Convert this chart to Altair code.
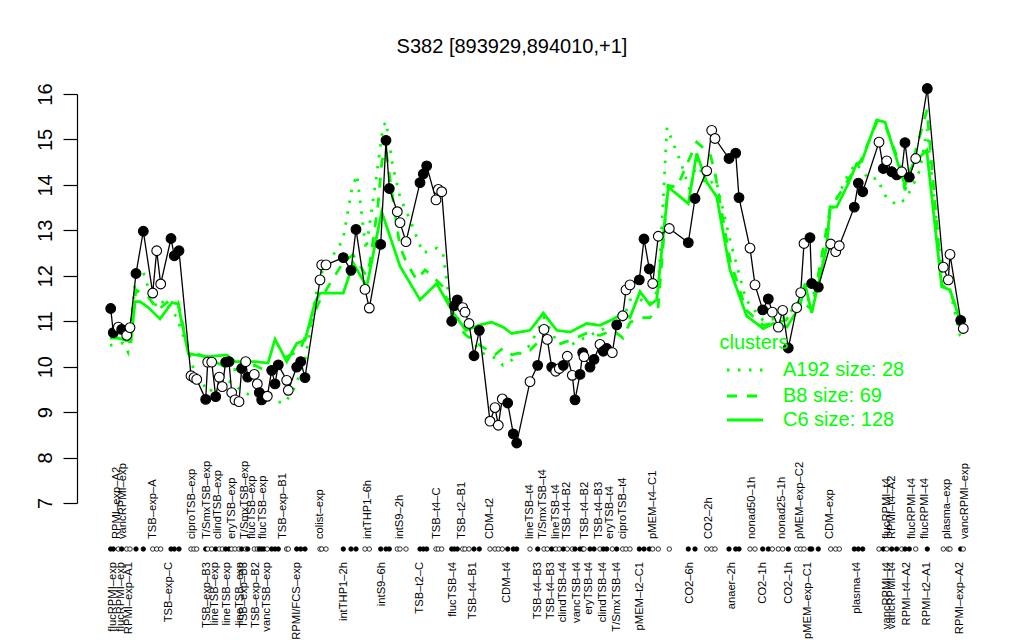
import altair as alt
import pandas as pd

FONT = "Liberation Sans"
GREEN = "#00ff00"

# ---- gene profile (black line) ----
prof_pos = [13.7, 16.3, 21.3, 24.7, 29.7, 33, 39, 46.3, 55.7, 59.7, 63.7, 74, 77.3, 82,
            94, 97, 99.7, 108.7, 110.7, 114.7, 118.7, 122.3, 125.3, 128.7, 132, 134.7, 138, 142,
            144.7, 148.7, 150.7, 157.3, 160.3, 162.3, 164.7, 167, 170.3, 174.7, 178, 181.3, 189.7,
            191.3, 199.7, 203.7, 208, 223, 224.7, 229, 246.3, 254, 259, 268, 272.3, 283.7, 289,
            292.3, 300.3, 303, 309, 323, 326.3, 329.7, 339, 341.3, 344.7, 354.7, 357.3, 360.3,
            365.7, 368, 372, 377, 382.3, 393, 398, 401.3, 405.3, 410.7, 416.3, 419.7, 433, 440.7,
            447, 450.3, 454.7, 458.7, 462.3, 466.3, 470.3, 475.3, 478, 483, 485.7, 487, 493, 497,
            503, 506.3, 509.7, 515.3, 519.7, 525.7, 529, 533, 542.3, 547, 552.3, 555.7, 561.3,
            572.3, 591.3, 598, 609.7, 614.7, 618, 632, 638.7, 642, 653, 658, 665.7, 671.3, 675.3,
            681.3, 685.7, 691.3, 699.7, 703.7, 707, 713, 714.7, 721.3, 733.7, 738.7, 742.3, 757.3,
            761.3, 765.7, 782, 786.3, 789.7, 794.7, 799.7, 804.7, 808, 812.3, 818.7, 830.3, 846.3,
            851.3, 853, 863.7, 866.3]
prof_val = [11.28, 10.75, 10.87, 10.82, 10.69, 10.86, 12.05, 12.98, 11.62, 12.55, 11.82, 12.82,
            12.44, 12.55, 9.80, 9.76, 9.72, 9.28, 10.10, 10.10, 9.34, 9.77, 9.56, 10.10, 10.11,
            9.43, 9.27, 9.23, 9.96, 10.11, 9.77, 9.83, 9.62, 9.43, 9.27, 9.34, 9.35, 9.92, 9.62,
            10.04, 9.70, 9.48, 9.99, 10.11, 9.76, 11.91, 12.24, 12.24, 12.40, 12.12, 13.02, 11.70,
            11.29, 12.69, 14.98, 13.92, 13.41, 13.17, 12.75, 14.05, 14.24, 14.42, 13.67, 13.90,
            13.85, 11.00, 11.34, 11.47, 11.30, 11.20, 10.95, 10.24, 10.80, 8.80, 9.10, 8.71, 9.29,
            9.20, 8.52, 8.32, 9.67, 10.03, 10.82, 10.60, 9.99, 9.90, 9.96, 10.03, 10.23, 9.81, 9.27,
            9.83, 10.31, 10.22, 9.99, 10.16, 10.49, 10.34, 10.40, 10.31, 10.92, 11.12, 11.69,
            11.80, 11.91, 12.81, 12.15, 11.83, 12.87, 13.04, 12.73, 13.70, 14.31, 15.20, 15.02,
            14.58, 14.70, 13.72, 12.61, 11.80, 11.25, 11.49, 11.20, 10.87, 11.24, 10.41, 11.30,
            11.63, 12.71, 12.84, 11.83, 11.75, 12.70, 12.53, 12.66, 13.51, 14.04, 13.85, 14.94,
            14.36, 14.53, 14.29, 14.22, 14.29, 14.93, 14.17, 14.58, 16.12, 12.19, 11.91, 12.47,
            11.02, 10.84]
prof_fill = list("bbwbwwbbww" "wbbbwwwbww" "bwwbbwwwbw" "bwwbbbwbbb" "wwbbbwwwbb"
                 "bwwbbbwwwb" "bbwwwbbbww" "wbbwwwwbbb" "wbwwbwwbww" "bbbwbbwbbw"
                 "bwwwbbbwww" "bbwwwbbbww" "bbwwwbwwwb" "bbwwwbbbwb" "wbbwbbwbww" "wbw")

# ---- cluster means (green lines) ----
c6_pos = [13, 21, 29, 34, 38, 43, 51.3, 63, 71.3, 75, 81, 91.3, 98, 111, 129.7, 138, 158, 171,
          178, 183, 189.7, 199.7, 208, 218, 223, 246.3, 256.3, 269.7, 284.7, 303, 323, 339.7,
          356.3, 369, 383, 394.7, 406.3, 414.7, 433, 446.3, 459.7, 473, 489.7, 503, 516.3, 526.3,
          533, 543, 553, 559.7, 571.3, 583, 591.3, 599.7, 609.7, 619.7, 633, 649.7, 666.3, 676.3,
          689.7, 703, 708, 714.7, 729.7, 733, 739.7, 751.3, 759.7, 764.7, 779.7, 788, 794.7, 803,
          808, 816.3, 829.7, 844.7, 853, 863, 868]
c6_val = [10.69, 10.63, 10.58, 10.55, 11.43, 11.43, 11.30, 11.05, 11.30, 11.41, 11.38, 10.29,
          10.26, 10.22, 10.26, 10.11, 10.11, 10.08, 10.60, 10.40, 10.11, 10.51, 10.58, 11.41,
          11.62, 11.62, 12.28, 11.76, 13.41, 12.21, 11.47, 11.83, 11.18, 10.80, 10.92, 10.98,
          10.87, 10.73, 10.80, 11.18, 10.80, 10.76, 10.95, 10.91, 11.05, 11.18, 11.08, 11.65,
          11.36, 11.47, 13.95, 13.74, 13.59, 14.69, 14.06, 13.74, 12.13, 11.11, 10.84, 10.95,
          10.87, 11.33, 11.83, 11.18, 12.64, 13.52, 13.51, 14.03, 14.47, 14.51, 15.43, 15.38,
          14.91, 14.33, 13.99, 14.47, 14.76, 11.76, 11.69, 11.02, 10.80]

b8_pos = [13, 29, 34, 39, 51, 61, 73, 81, 91, 111, 134.7, 158, 171, 183, 203, 218, 223, 246,
          256, 269, 273, 281, 285, 289, 296, 303, 309.7, 319.7, 328, 336, 346, 356.3, 369, 383,
          398, 406, 415, 433, 448, 459, 473, 489, 503, 516, 526, 533, 543, 553, 561, 571, 580,
          599.7, 613, 618, 633, 649, 666, 689, 703, 715, 733, 751, 764, 780, 788, 803, 808, 816,
          830, 845, 853, 868]
b8_val = [10.63, 10.63, 10.76, 11.69, 11.54, 11.25, 11.47, 11.43, 10.36, 10.19, 9.92, 10.03, 9.88,
          10.15, 10.36, 11.21, 11.47, 12.29, 12.46, 12.01, 12.29, 13.56, 14.54, 14.76, 13.67,
          12.64, 12.28, 11.91, 12.13, 11.98, 11.76, 11.02, 10.69, 10.47, 10.26, 10.41, 10.26,
          10.36, 10.69, 10.47, 10.58, 10.73, 10.69, 10.80, 10.63, 10.97, 11.08, 11.08, 11.28,
          13.99, 13.95, 14.94, 14.69, 14.26, 12.35, 11.25, 10.91, 11.02, 11.47, 11.25, 13.45,
          14.11, 14.54, 15.39, 15.33, 14.44, 13.88, 14.54, 15.65, 11.80, 11.65, 10.80]

a192_pos = [13, 18, 26, 31, 39, 46, 53, 60, 68, 75, 80, 85, 90, 95, 111, 131, 148, 161, 188,
            198, 208, 218, 223, 246, 255, 260, 269, 279, 286, 289, 296, 303, 313, 326, 340, 346,
            353, 369, 383, 398, 406, 415, 433, 447, 459, 473, 489, 503, 516, 526, 533, 543, 553,
            561, 566, 570, 583, 593, 600, 609, 619, 633, 649, 666, 689, 703, 715, 729, 733, 739,
            751, 759, 764, 773, 780, 788, 794, 799, 808, 816, 823, 830, 845, 853, 863, 868]
a192_val = [10.47, 10.49, 10.52, 10.32, 12.01, 12.09, 11.62, 11.30, 11.47, 11.19, 11.10, 10.73,
            10.52, 10.03, 9.44, 9.70, 9.42, 9.31, 9.20, 9.55, 10.15, 11.47, 12.01, 12.79, 13.93,
            14.22, 12.57, 14.11, 15.28, 15.39, 14.39, 13.73, 13.23, 12.50, 12.61, 12.50, 11.32,
            10.80, 10.32, 10.19, 10.03, 10.15, 10.47, 11.08, 10.58, 10.47, 10.65, 10.80, 10.91,
            11.02, 11.47, 11.48, 11.38, 11.69, 13.60, 15.26, 14.54, 13.88, 14.54, 13.99, 14.11,
            12.79, 11.47, 11.02, 11.08, 11.47, 11.47, 12.57, 13.34, 13.67, 14.22, 14.48, 14.33,
            14.11, 14.15, 13.77, 13.67, 13.56, 13.67, 13.99, 14.33, 15.22, 12.01, 11.69, 10.69,
            10.58]

# ---- sample labels ----
top_pos = [19.7, 26.3, 56.3, 94.7, 109.7, 121.3, 134.7, 148, 154.7, 166.3, 186.3, 223, 271.3,
           303, 339.7, 364.7, 393, 433, 446.3, 459, 469.7, 488, 502.3, 513, 525.7, 555.7, 612.3,
           654.7, 684.7, 703, 733, 789.7, 794.7, 814.7, 828, 849.7, 868]
top_lab = ["RPMI\u2013exp\u2013A2", "vancRPMI\u2013exp", "TSB\u2013exp\u2013A", "ciproTSB\u2013exp",
           "T/SmxTSB\u2013exp", "clindTSB\u2013exp", "eryTSB\u2013exp", "T/SmxTSB\u2013exp",
           "flucTSB\u2013exp", "flucTSB\u2013exp", "TSB\u2013exp\u2013B1", "colist\u2013exp",
           "intTHP1\u20136h", "intS9\u20132h", "TSB\u2013t4\u2013C", "TSB\u2013t2\u2013B1", "CDM\u2013t2",
           "lineTSB\u2013t4", "T/SmxTSB\u2013t4", "lineTSB\u2013t4", "TSB\u2013t4\u2013B2",
           "TSB\u2013t4\u2013B2", "TSB\u2013t4\u2013B3", "eryTSB\u2013t4", "ciproTSB\u2013t4",
           "pMEM\u2013t4\u2013C1", "CO2\u20132h", "nonad50\u20131h", "nonad25\u20131h",
           "pMEM\u2013exp\u2013C2", "CDM\u2013exp", "flucRPMI\u2013t4", "RPMI\u2013t4\u2013A2",
           "flucRPMI\u2013t4", "flucRPMI\u2013t4", "plasma\u2013exp", "vancRPMI\u2013exp"]
bot_pos = [15.7, 23.7, 32.3, 72, 109.7, 118, 129.7, 143, 147, 159, 169.7, 199.7, 247, 284.7,
           323, 356.3, 376.3, 409.7, 441.3, 454, 465.7, 479.7, 492.3, 506.3, 519.7, 543, 593,
           634.7, 666.3, 692.3, 711.3, 759.7, 789.7, 794.7, 809.7, 829.7, 863]
bot_lab = ["flucRPMI\u2013exp", "flucRPMI\u2013exp", "RPMI\u2013exp\u2013A1", "TSB\u2013exp\u2013C",
           "TSB\u2013exp\u2013B3", "lineTSB\u2013exp", "lineTSB\u2013exp", "lineTSB\u2013exp",
           "TSB\u2013exp\u2013B3", "TSB\u2013exp\u2013B2", "vancTSB\u2013exp", "RPMI/FCS\u2013exp",
           "intTHP1\u20132h", "intS9\u20136h", "TSB\u2013t2\u2013C", "flucTSB\u2013t4", "TSB\u2013t4\u2013B1",
           "CDM\u2013t4", "TSB\u2013t4\u2013B3", "TSB\u2013t4\u2013B3", "clindTSB\u2013t4",
           "vancTSB\u2013t4", "eryTSB\u2013t4", "clindTSB\u2013t4", "T/SmxTSB\u2013t4",
           "pMEM\u2013t2\u2013C1", "CO2\u20136h", "anaer\u20132h", "CO2\u20131h", "CO2\u20131h",
           "pMEM\u2013exp\u2013C1", "plasma\u2013t4", "vancRPMI\u2013t4", "vancRPMI\u2013t4",
           "RPMI\u2013t4\u2013A2", "RPMI\u2013t2\u2013A1", "RPMI\u2013exp\u2013A2"]

y_ticks = [7, 8, 9, 10, 11, 12, 13, 14, 15, 16]
title_text = "S382 [893929,894010,+1]"
legend_title = "clusters"
legend_labels = ["A192 size: 28", "B8 size: 69", "C6 size: 128"]

# ---- build ----
W, H = 888, 409
xs = alt.Scale(domain=[-20, 868], nice=False, zero=False)
ys = alt.Scale(domain=[7, 16], nice=False, zero=False)

prof = pd.DataFrame({"pos": prof_pos, "val": prof_val,
                     "fc": ["black" if f == "b" else "white" for f in prof_fill]})
c6 = pd.DataFrame({"pos": c6_pos, "val": c6_val})
b8 = pd.DataFrame({"pos": b8_pos, "val": b8_val})
a192 = pd.DataFrame({"pos": a192_pos, "val": a192_val})
top = pd.DataFrame({"pos": top_pos, "lab": top_lab})
bot = pd.DataFrame({"pos": bot_pos, "lab": bot_lab})
one = pd.DataFrame({"a": [0]})

X = alt.X("pos:Q", scale=xs, axis=None)
Y = alt.Y("val:Q", scale=ys, axis=alt.Axis(
    values=y_ticks, tickSize=14, labelFontSize=20, labelFont=FONT, labelColor="black",
    labelAngle=270, labelAlign="center", labelBaseline="alphabetic", labelPadding=12,
    domainColor="black", tickColor="black", domainWidth=1.2, tickWidth=1.2,
    grid=False, title=None, labelFlush=False, labelOverlap=False))

l_a = alt.Chart(a192).mark_line(color=GREEN, strokeWidth=2.8, strokeDash=[2.5, 8.5],
                                strokeCap="butt").encode(x=X, y=Y)
l_b = alt.Chart(b8).mark_line(color=GREEN, strokeWidth=2.8, strokeDash=[10, 10]).encode(x=X, y=Y)
l_c = alt.Chart(c6).mark_line(color=GREEN, strokeWidth=2.8).encode(x=X, y=Y)
l_p = alt.Chart(prof).mark_line(color="black", strokeWidth=1.3).encode(x=X, y=Y)
p_p = alt.Chart(prof).mark_point(filled=True, shape="circle", size=95, stroke="black",
                                 strokeWidth=1.1, opacity=1).encode(
    x=X, y=Y, fill=alt.Fill("fc:N", scale=None))
dots = alt.Chart(prof).mark_point(filled=True, shape="circle", size=20, stroke="black",
                                  strokeWidth=0.8, opacity=1).encode(
    x=X, y=alt.value(455), fill=alt.Fill("fc:N", scale=None))
t_top = alt.Chart(top).mark_text(angle=270, align="left", baseline="middle", fontSize=11.2,
                                 font=FONT, color="black").encode(
    x=X, y=alt.value(445), text="lab:N")
t_bot = alt.Chart(bot).mark_text(angle=270, align="right", baseline="middle", fontSize=11.2,
                                 font=FONT, color="black").encode(
    x=X, y=alt.value(468), text="lab:N")

title = alt.Chart(one).mark_text(fontSize=20, font=FONT, color="black", baseline="middle").encode(
    x=alt.value(435), y=alt.value(-47), text=alt.value(title_text))

leg = [alt.Chart(one).mark_text(fontSize=20, font=FONT, color=GREEN, align="center",
                                baseline="middle").encode(
    x=alt.value(677), y=alt.value(249), text=alt.value(legend_title))]
leg_y = [276, 302, 326]
dashes = [[2.5, 8.5], [10, 10], None]
for lab, yy, d in zip(legend_labels, leg_y, dashes):
    leg.append(alt.Chart(one).mark_text(fontSize=20, font=FONT, color=GREEN, align="left",
                                        baseline="middle").encode(
        x=alt.value(706), y=alt.value(yy), text=alt.value(lab)))
    kw = dict(color=GREEN, strokeWidth=2.8)
    if d is not None:
        kw["strokeDash"] = d
    leg.append(alt.Chart(one).mark_rule(**kw).encode(
        x=alt.value(650), x2=alt.value(686), y=alt.value(yy)))

chart = alt.layer(l_a, l_b, l_c, l_p, p_p, dots, t_top, t_bot, title, *leg).properties(
    width=W, height=H,
    autosize=alt.AutoSizeParams(type="none"),
    padding={"left": 69, "top": 86, "right": 40, "bottom": 140},
).configure_view(stroke=None)

chart.save("out.html", embed_options={"renderer": "svg", "actions": False})
